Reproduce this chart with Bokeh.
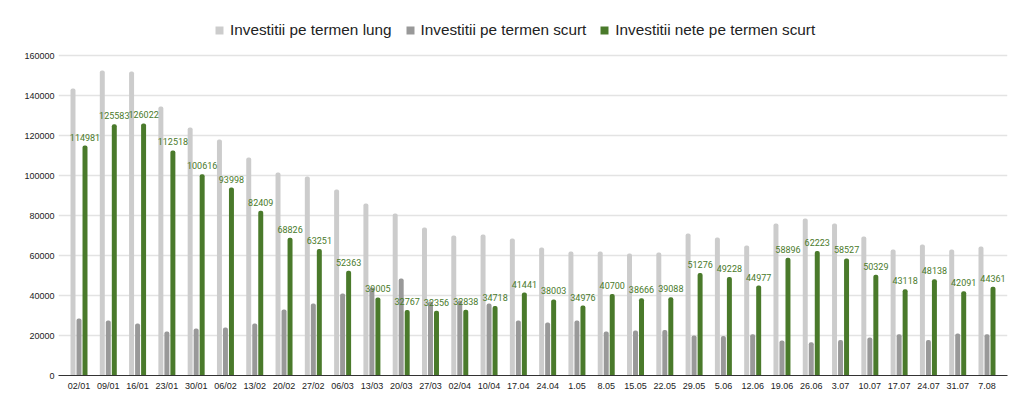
from bokeh.plotting import figure
from bokeh.models import ColumnDataSource, FixedTicker, Range1d, Legend, LegendItem
from bokeh.core.properties import value
from bokeh.embed import file_html
from bokeh.resources import INLINE

dates = ["02/01", "09/01", "16/01", "23/01", "30/01", "06/02", "13/02", "20/02", "27/02", "06/03",
         "13/03", "20/03", "27/03", "02/04", "10/04", "17.04", "24.04", "1.05", "8.05", "15.05",
         "22.05", "29.05", "5.06", "12.06", "19.06", "26.06", "3.07", "10.07", "17.07", "24.07",
         "31.07", "7.08"]

long_term = [143500, 152500, 152000, 134500, 124000, 118000, 109000, 101500, 99500, 93000,
             86000, 81000, 74000, 70000, 70500, 68500, 64000, 62000, 62000, 61000,
             61500, 71000, 69000, 65000, 76000, 78500, 76000, 69500, 63000, 65500,
             63000, 64500]

short_term = [28500, 27500, 26000, 22000, 23500, 24000, 26000, 33000, 36000, 41000,
              44000, 48500, 37000, 37500, 36000, 27500, 26500, 27500, 22000, 22500,
              22800, 20000, 19800, 20600, 17500, 16600, 17800, 19000, 20600, 17800,
              21000, 20600]

net_short = [114981, 125583, 126022, 112518, 100616, 93998, 82409, 68826, 63251, 52363,
             39005, 32767, 32356, 32838, 34718, 41441, 38003, 34976, 40700, 38666,
             39088, 51276, 49228, 44977, 58896, 62223, 58527, 50329, 43118, 48138,
             42091, 44361]

series_names = ["Investitii pe termen lung", "Investitii pe termen scurt", "Investitii nete pe termen scurt"]
y_ticks = [0, 20000, 40000, 60000, 80000, 100000, 120000, 140000, 160000]

C_LONG = "#cccccc"
C_SHORT = "#999999"
C_NET = "#4a7a2b"

idx = list(range(len(dates)))
OFF = 0.205
BW = 0.17

src = ColumnDataSource(dict(
    x_long=[i - OFF for i in idx],
    x_short=list(idx),
    x_net=[i + OFF for i in idx],
    long=long_term,
    short=short_term,
    net=net_short,
    net_lbl=[str(v) for v in net_short],
))

# frame extends above the 160000 gridline so the legend can sit inside it
p = figure(width=1014, height=400, output_backend="svg", toolbar_location=None,
           x_range=Range1d(-0.7, len(dates) - 0.3), y_range=Range1d(0, 180000),
           min_border_left=58, min_border_right=7, min_border_top=15, min_border_bottom=25)
p.outline_line_color = None
p.background_fill_color = "white"
p.border_fill_color = "white"

r1 = p.vbar(x="x_long", top="long", width=BW, source=src, fill_color=C_LONG, line_color=None,
            border_radius=(2, 2, 0, 0))
r2 = p.vbar(x="x_short", top="short", width=BW, source=src, fill_color=C_SHORT, line_color=None,
            border_radius=(2, 2, 0, 0))
r3 = p.vbar(x="x_net", top="net", width=BW, source=src, fill_color=C_NET, line_color=None,
            border_radius=(2, 2, 0, 0))

p.text(x="x_net", y="net", text="net_lbl", source=src, text_align="center", text_baseline="bottom",
       y_offset=-5, text_font=value("Roboto"), text_font_size="9px", text_color=C_NET)

# axes
p.xaxis.ticker = FixedTicker(ticks=idx)
p.xaxis.major_label_overrides = {i: d for i, d in enumerate(dates)}
p.xaxis.axis_line_color = "#333333"
p.xaxis.axis_line_width = 1
p.xaxis.major_tick_line_color = None
p.xaxis.minor_tick_line_color = None
p.xaxis.major_tick_out = 0
p.xaxis.major_tick_in = 0
p.xaxis.minor_tick_out = 0
p.xaxis.major_label_standoff = 5
p.xaxis.major_label_text_font = "Liberation Sans"
p.xaxis.major_label_text_font_size = "9px"
p.xaxis.major_label_text_color = "#222222"

p.yaxis.ticker = FixedTicker(ticks=y_ticks)
p.yaxis.major_label_overrides = {t: str(t) for t in y_ticks}
p.yaxis.axis_line_color = None
p.yaxis.major_tick_line_color = None
p.yaxis.minor_tick_line_color = None
p.yaxis.major_tick_out = 0
p.yaxis.major_tick_in = 0
p.yaxis.minor_tick_out = 0
p.yaxis.major_label_standoff = 4
p.yaxis.major_label_text_font = "Liberation Sans"
p.yaxis.major_label_text_font_size = "9px"
p.yaxis.major_label_text_color = "#222222"

p.xgrid.grid_line_color = None
p.ygrid.grid_line_color = "#e3e3e3"
p.ygrid.grid_line_width = 1.3

legend = Legend(items=[LegendItem(label=series_names[0], renderers=[r1]),
                       LegendItem(label=series_names[1], renderers=[r2]),
                       LegendItem(label=series_names[2], renderers=[r3])],
                orientation="horizontal", location=(156, 336),
                glyph_width=10, glyph_height=10, label_standoff=6, spacing=13,
                padding=0, margin=0, border_line_color=None, background_fill_alpha=0,
                label_text_font="Liberation Sans", label_text_font_size="15.3px",
                label_text_color="#222222", label_height=16)
p.add_layout(legend, "center")

open("out.html", "w").write(file_html(p, INLINE))
